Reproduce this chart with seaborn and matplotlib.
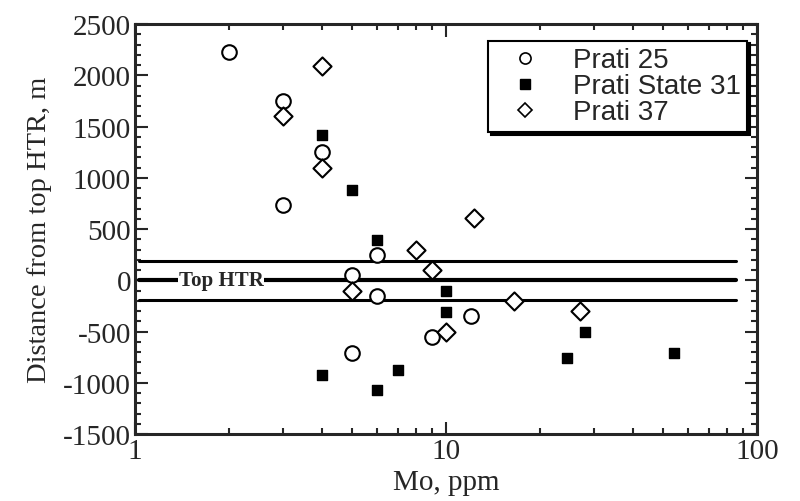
import pandas as pd
import matplotlib
matplotlib.use("Agg")
import matplotlib.pyplot as plt
import seaborn as sns
from matplotlib.lines import Line2D
from matplotlib.ticker import MultipleLocator, LogLocator, NullFormatter

# %% data
p25_mo = [2, 3, 3, 4, 5, 5, 6, 6, 9, 12]
p25_dist = [2230, 1750, 740, 1250, 50, -710, 245, -155, -555, -350]

p31_mo = [4, 5, 6, 4, 6, 7, 10, 10, 24.5, 28, 54]
p31_dist = [1415, 885, 390, -925, -1070, -875, -100, -310, -760, -500, -710]

p37_mo = [4, 3, 4, 5, 8, 9, 10, 12.3, 16.5, 27]
p37_dist = [2090, 1600, 1100, -100, 295, 100, -505, 605, -205, -295]

htr_levels = [190, 0, -190]

df = pd.concat([
    pd.DataFrame({"Mo": p25_mo, "dist": p25_dist, "well": "Prati 25"}),
    pd.DataFrame({"Mo": p31_mo, "dist": p31_dist, "well": "Prati State 31"}),
    pd.DataFrame({"Mo": p37_mo, "dist": p37_dist, "well": "Prati 37"}),
])

# %% plot
sns.set_style("ticks")
plt.rcParams["font.family"] = ["Liberation Serif", "DejaVu Serif"]
plt.rcParams["axes.unicode_minus"] = False

fig = plt.figure(figsize=(8, 5.02), dpi=100)
ax = fig.add_axes([0.169, 0.133, 0.777, 0.817])

# HTR band lines
for lv, lw in zip(htr_levels, [2.2, 3.0, 2.2]):
    ax.plot([1.03, 86], [lv, lv], color="black", lw=lw, zorder=1)
ax.text(1.38, 0, "Top HTR", fontsize=15, fontweight="bold", va="center", ha="left",
        bbox=dict(facecolor="white", edgecolor="none", pad=0.3), zorder=2)

styles = {
    "Prati 25": dict(marker="o", s=110, facecolor="white", edgecolor="black", linewidth=1.5),
    "Prati State 31": dict(marker="s", s=55, facecolor="black", edgecolor="black", linewidth=1),
    "Prati 37": dict(marker="D", s=85, facecolor="white", edgecolor="black", linewidth=1.5),
}
for well, st in styles.items():
    sub = df[df["well"] == well]
    sns.scatterplot(data=sub, x="Mo", y="dist", ax=ax, legend=False, zorder=3, **st)

ax.set_xscale("log")
ax.set_xlim(1, 100)
ax.set_ylim(-1500, 2500)
ax.yaxis.set_major_locator(MultipleLocator(500))
ax.yaxis.set_minor_locator(MultipleLocator(100))
ax.xaxis.set_minor_locator(LogLocator(base=10, subs=range(2, 10)))
ax.xaxis.set_minor_formatter(NullFormatter())
ax.set_xticks([1, 10, 100])
ax.set_xticklabels(["1", "10", "100"])

ax.tick_params(which="both", direction="in", top=True, right=True, labelsize=21, width=1.5)
ax.tick_params(which="major", length=9, pad=3)
ax.tick_params(which="minor", length=4)
for sp in ax.spines.values():
    sp.set_linewidth(2.2)

ax.set_xlabel("Mo, ppm", fontsize=21, labelpad=3)
ax.set_ylabel("Distance from top HTR, m", fontsize=20.5, labelpad=8)

handles = [
    Line2D([], [], ls="none", marker="o", ms=8, mfc="white", mec="black", mew=1.2),
    Line2D([], [], ls="none", marker="s", ms=7, mfc="black", mec="black"),
    Line2D([], [], ls="none", marker="D", ms=7, mfc="white", mec="black", mew=1.2),
]
leg = ax.legend(handles, list(styles.keys()), loc="upper right", bbox_to_anchor=(0.985, 0.96),
                prop={"family": "Liberation Sans", "size": 20}, frameon=True, fancybox=False,
                shadow={"color": "black", "alpha": 1}, handletextpad=0.6, borderpad=0.25,
                labelspacing=0.0, handlelength=2.2, borderaxespad=0)
leg.get_frame().set_edgecolor("black")
leg.get_frame().set_linewidth(1.5)

plt.savefig("out.png", dpi=100)
